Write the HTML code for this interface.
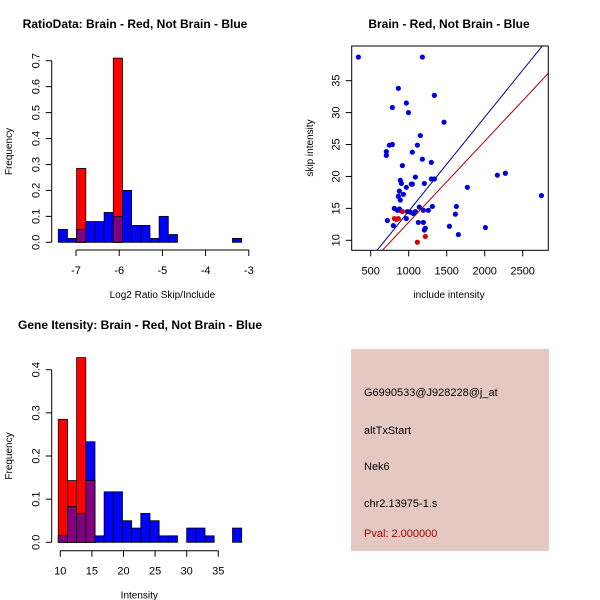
<!DOCTYPE html>
<html><head><meta charset="utf-8"><style>
body{margin:0;background:#fff}
svg{display:block;font-family:"Liberation Sans",Arial,sans-serif}
</style></head><body>
<svg id="s" width="600" height="600">
<rect x="0" y="0" width="600" height="600" fill="#fff"/>
</svg>
<script>
// Histogram 1 data
const h1Start = -7.41, h1Width = 0.2122;
const h1Blue = [0.05,0.015,0.05,0.08,0.08,0.115,0.10,0.20,0.065,0.065,0.015,0.10,0.03,0,0,0,0,0,0,0.015];
const h1Red  = [0,0,0.285,0,0,0,0.71,0,0,0,0,0,0,0,0,0,0,0,0,0];
const h1XTicks = [-7,-6,-5,-4,-3];
const h1YTicks = [0,0.1,0.2,0.3,0.4,0.5,0.6,0.7];
// Histogram 2 data
const h2Start = 9.68, h2Width = 1.451;
const h2Blue = [0.015,0.083,0.067,0.233,0.015,0.117,0.117,0.05,0.033,0.067,0.05,0.015,0.015,0,0.033,0.033,0.015,0,0,0.033];
const h2Red  = [0.285,0.143,0.428,0.143,0,0,0,0,0,0,0,0,0,0,0,0,0,0,0,0];
const h2XTicks = [10,15,20,25,30,35];
const h2YTicks = [0,0.1,0.2,0.3,0.4];
// Scatter data
const blueX = [338,1180,864,1338,969,785,996,1465,1153,746,785,1114,706,706,1048,1180,1298,917,1088,890,904,1206,969,1048,1035,877,930,864,890,1338,1298,1772,2167,2272,2746,811,877,851,890,982,1022,1061,1088,1140,1193,1259,1311,1627,1614,719,798,969,1127,1193,1219,1206,1535,1654,2009];
const blueY = [38.7,38.7,33.8,32.7,31.5,30.8,30.0,28.5,26.4,24.9,25.0,24.9,23.9,23.3,23.8,22.7,22.2,21.7,19.9,19.4,18.9,18.9,18.3,18.8,18.8,17.7,17.2,16.9,16.3,19.6,19.6,18.3,20.2,20.5,17.0,15.0,14.9,14.7,14.7,14.5,14.4,14.2,14.5,15.2,14.7,14.7,15.3,15.3,14.1,13.1,12.3,13.4,12.8,12.8,11.9,11.6,12.2,10.9,12.0];
const redX = [811,864,838,917,1114,1219];
const redY = [13.4,13.4,13.3,14.5,9.7,10.6];
const blueLine = [-0.16, 0.01472]; // intercept, slope
const redLine = [0.12, 0.0127];
const scXTicks = [500,1000,1500,2000,2500];
const scYTicks = [10,15,20,25,30,35];

const svg = document.getElementById('s');
const NS = 'http://www.w3.org/2000/svg';
function mk(tag, attrs, parent){const e=document.createElementNS(NS,tag);for(const k in attrs)e.setAttribute(k,attrs[k]);(parent||svg).appendChild(e);return e;}
function txt(x,y,s,size,opts,parent){const e=mk('text',Object.assign({x:x,y:y,'font-size':size,'text-anchor':'middle'},opts||{}),parent);e.textContent=s;return e;}

function hist(name, start, width, blue, red, xt, yt, xs, ys, axisY, title, titleX, titleY, xlabel){
  const g = mk('g',{});
  
  
  const X = v => xs[0] + (v - xs[1]) * xs[2];
  const Y = v => ys[0] - v * ys[1];
  for(let i=0;i<blue.length;i++){
    const x0=X(start+i*width), x1=X(start+(i+1)*width);
    const b=blue[i], r=red[i];
    if(b>0){const e=mk('rect',{x:x0,y:Y(b),width:x1-x0,height:Y(0)-Y(b),fill:'#0000ff',stroke:'#000','stroke-width':0.8},g);
      
      }
    if(r>0){const e=mk('rect',{x:x0,y:Y(r),width:x1-x0,height:Y(0)-Y(r),fill:'#ff0000',stroke:'#000','stroke-width':0.8},g);
      
      }
    if(r>0&&b>0){const m=Math.min(r,b);const e=mk('rect',{x:x0,y:Y(m),width:x1-x0,height:Y(0)-Y(m),fill:'#800080',stroke:'#000','stroke-width':0.8},g);
      
      }
  }
  mk('line',{x1:X(xt[0]),x2:X(xt[xt.length-1]),y1:axisY,y2:axisY,stroke:'#000'},g);
  xt.forEach(t=>{mk('line',{x1:X(t),x2:X(t),y1:axisY,y2:axisY+6,stroke:'#000'},g);txt(X(t),axisY+24,String(t),11,{},g);});
  const ax=51.7;
  mk('line',{x1:ax,x2:ax,y1:Y(yt[0]),y2:Y(yt[yt.length-1]),stroke:'#000'},g);
  yt.forEach(t=>{mk('line',{x1:ax,x2:ax-6,y1:Y(t),y2:Y(t),stroke:'#000'},g);
    txt(0,0,t.toFixed(1),11,{transform:`translate(${ax-12},${Y(t)}) rotate(-90)`},g);});
  const tl=txt(titleX,titleY,title,12,{'font-weight':'bold'},g);
  
  
  const xl=txt(X(xt[0])+ (X(xt[xt.length-1])-X(xt[0]))/2,axisY+48,xlabel,10,{},g);
  
  
  const yl=txt(0,0,'Frequency',10,{transform:`translate(12,${(Y(yt[0])+Y(yt[yt.length-1]))/2}) rotate(-90)`},g);
  
  
}
hist('ratio-histogram',h1Start,h1Width,h1Blue,h1Red,h1XTicks,h1YTicks,[76,-7,43.2],[242.3,259.4],250,'RatioData: Brain - Red, Not Brain - Blue',135,28,'Log2 Ratio Skip/Include');
hist('intensity-histogram',h2Start,h2Width,h2Blue,h2Red,h2XTicks,h2YTicks,[60.3,10,6.32],[542.3,431.5],550.7,'Gene Itensity: Brain - Red, Not Brain - Blue',140,329,'Intensity');

(function(){
  const g=mk('g',{});
  
  
  const L=351.7,R=548.3,T=46,B=250.3;
  const X=v=>370.7+(v-500)*0.076, Y=v=>240.3-(v-10)*6.385;
  const cp=mk('clipPath',{id:'cp'},g);mk('rect',{x:L,y:T,width:R-L,height:B-T},cp);
  for(let i=0;i<blueX.length;i++){const c=mk('circle',{cx:X(blueX[i]),cy:Y(blueY[i]),r:2.6,fill:'#0000dd'},g);
    
    }
  for(let i=0;i<redX.length;i++){const c=mk('circle',{cx:X(redX[i]),cy:Y(redY[i]),r:2.6,fill:'#dd0000'},g);
    
    }
  const xa=0,xb=3000;
  const bl=mk('line',{x1:X(xa),y1:Y(blueLine[0]+blueLine[1]*xa),x2:X(xb),y2:Y(blueLine[0]+blueLine[1]*xb),stroke:'#00008b','stroke-width':1,'clip-path':'url(#cp)'},g);
  
  
  const rl=mk('line',{x1:X(xa),y1:Y(redLine[0]+redLine[1]*xa),x2:X(xb),y2:Y(redLine[0]+redLine[1]*xb),stroke:'#b00000','stroke-width':1,'clip-path':'url(#cp)'},g);
  
  
  mk('rect',{x:L,y:T,width:R-L,height:B-T,fill:'none',stroke:'#000'},g);
  scXTicks.forEach(t=>{mk('line',{x1:X(t),x2:X(t),y1:B,y2:B+6,stroke:'#000'},g);txt(X(t),B+24,String(t),11,{},g);});
  scYTicks.forEach(t=>{mk('line',{x1:L,x2:L-6,y1:Y(t),y2:Y(t),stroke:'#000'},g);
    txt(0,0,String(t),11,{transform:`translate(${L-12},${Y(t)}) rotate(-90)`},g);});
  const t=txt(449,28,'Brain - Red, Not Brain - Blue',12,{'font-weight':'bold'},g);
  
  
  const xl=txt(449,298,'include intensity',10,{},g);
  
  
  const yl=txt(0,0,'skip intensity',10,{transform:'translate(313,148) rotate(-90)'},g);
  
  
})();
</script>
<svg style="position:absolute;left:0;top:0" width="600" height="600">
<g font-family="Liberation Sans, Arial, sans-serif" font-size="11">
<rect x="351" y="349" width="198" height="202" fill="#e6c8c2"/>
<text x="364" y="396">G6990533@J928228@j_at</text>
<text x="364" y="434">altTxStart</text>
<text x="364" y="470">Nek6</text>
<text x="364" y="507">chr2.13975-1.s</text>
<text x="364" y="537" fill="#990000">Pval: 2.000000</text>
</g></svg>
</body></html>
